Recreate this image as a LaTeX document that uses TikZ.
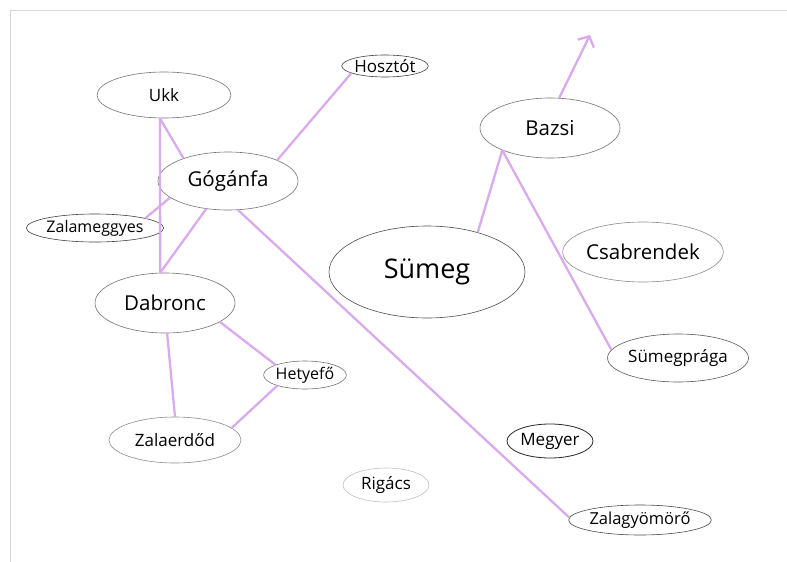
\documentclass[tikz,border=0pt]{standalone}
\usepackage{fontspec}
\setmainfont{Open Sans}
\usetikzlibrary{shapes.geometric,arrows.meta}
\definecolor{lav}{RGB}{217,170,238}
\definecolor{frame}{RGB}{215,215,215}
\tikzset{
  town/.style={ellipse,draw=black!55,line width=0.6pt,inner sep=0pt,font=\fontsize{17}{20}\selectfont},
  mid/.style={town,font=\fontsize{20.5}{24}\selectfont},
  big/.style={town,font=\fontsize{27}{32}\selectfont},
  road/.style={draw=lav,line width=2.3pt},
}
\begin{document}
\begin{tikzpicture}[x=1pt,y=-1pt]
\useasboundingbox (0,0) rectangle (787,562);
\draw[frame,line width=0.8pt] (10,562) -- (10,10) -- (787,10);
\node[town,minimum width=134,minimum height=46] (ukk) at (164,95) {Ukk};
\node[town,minimum width=80,minimum height=22,draw=black!75] (hosztot) at (385,66) {Hosztót};
\node[mid,minimum width=140,minimum height=58] (goganfa) at (228,181) {Gógánfa};
\node[town,minimum width=124,minimum height=28,draw=black!75,font=\fontsize{16}{19}\selectfont] (zalameggyes) at (95,228) {Zalameggyes};
\node[big,minimum width=196,minimum height=92,draw=black!70] (sumeg) at (427,272) {Sümeg};
\node[mid,minimum width=140,minimum height=60] (bazsi) at (550,128) {Bazsi};
\node[mid,minimum width=140,minimum height=60,draw=black!45] (csabrendek) at (643,252) {Csabrendek};
\node[town,minimum width=132,minimum height=48,draw=black!65] (sumegpraga) at (678,358) {Sümegprága};
\node[mid,minimum width=140,minimum height=60] (dabronc) at (165,303) {Dabronc};
\node[town,minimum width=80,minimum height=28,font=\fontsize{16}{19}\selectfont] (hetyefo) at (305,375) {Hetyefő};
\node[town,minimum width=132,minimum height=46,draw=black!45] (zalaerdod) at (175,440) {Zalaerdőd};
\node[town,minimum width=86,minimum height=34,draw=black!85,line width=0.8pt] (megyer) at (550,441) {Megyer};
\node[town,minimum width=86,minimum height=34,draw=black!25] (rigacs) at (386,485) {Rigács};
\node[town,minimum width=126,minimum height=30,draw=black!70,font=\fontsize{16.5}{19}\selectfont] (zalagyomoro) at (640,520) {Zalagyömörő};
\coordinate (north) at (590,35);
\draw[road] (ukk.260) -- (goganfa.153);
\draw[road] (ukk.260) -- (dabronc.99);
\draw[road] (zalameggyes.11) -- (goganfa.196);
\draw[road] (goganfa.232) -- (dabronc.99);
\draw[road] (goganfa.23) -- (hosztot.192);
\draw[road] (goganfa.289) -- (zalagyomoro.178);
\draw[road] (dabronc.274) -- (zalaerdod.90);
\draw[road] (dabronc.341) -- (hetyefo.161);
\draw[road] (hetyefo.201) -- (zalaerdod.12);
\draw[road] (bazsi.205) -- (sumeg.38);
\draw[road] (bazsi.205) -- (sumegpraga.173);
\draw[road,-{Straight Barb[length=8pt,width=18pt,line width=2.3pt]}] (bazsi.73) -- (north);
\end{tikzpicture}
\end{document}
